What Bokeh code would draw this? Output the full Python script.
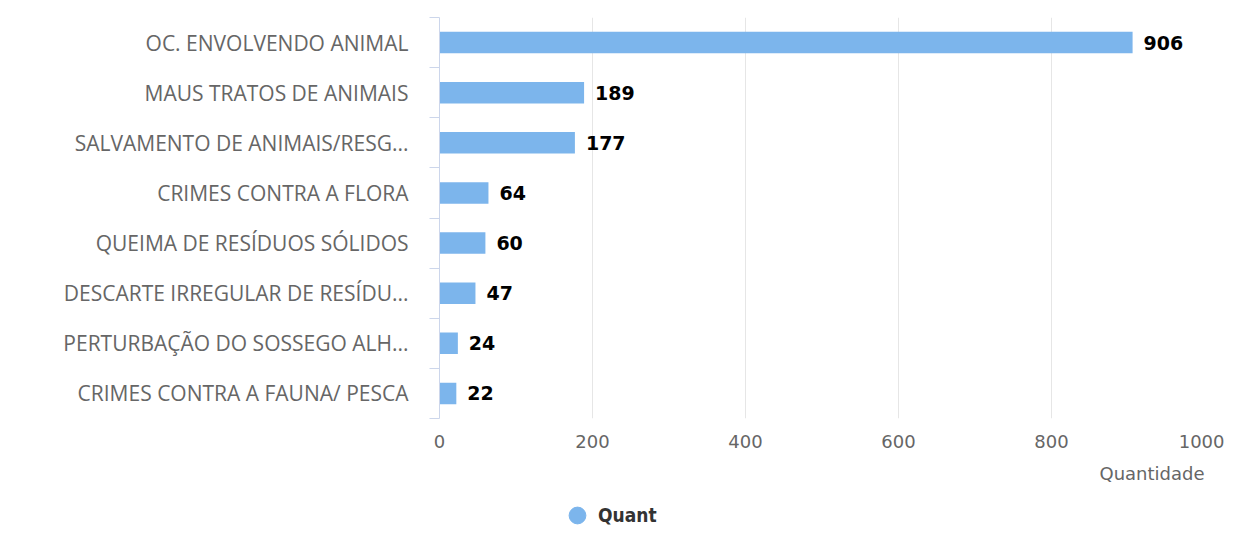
from bokeh.plotting import figure
from bokeh.layouts import column
from bokeh.models import (ColumnDataSource, FixedTicker, Range1d, Legend, LegendItem, Title)
from bokeh.core.properties import value
from bokeh.embed import file_html
from bokeh.resources import INLINE

categories = [
    "OC. ENVOLVENDO ANIMAL",
    "MAUS TRATOS DE ANIMAIS",
    "SALVAMENTO DE ANIMAIS/RESG...",
    "CRIMES CONTRA A FLORA",
    "QUEIMA DE RESÍDUOS SÓLIDOS",
    "DESCARTE IRREGULAR DE RESÍDU...",
    "PERTURBAÇÃO DO SOSSEGO ALH...",
    "CRIMES CONTRA A FAUNA/ PESCA",
]
quant = [906, 189, 177, 64, 60, 47, 24, 22]
x_ticks = [0, 200, 400, 600, 800, 1000]
series_name = "Quant"
axis_title = "Quantidade"

n = len(categories)
pos = [n - 1 - i + 0.5 for i in range(n)]

src = ColumnDataSource(dict(cat=categories, q=quant, y=pos, lbl=[str(v) for v in quant]))

bar_color = "#7cb5ec"

p = figure(width=1224, height=493, output_backend="svg", toolbar_location=None,
           x_range=Range1d(0, 1000), y_range=Range1d(0, n),
           min_border_left=439, min_border_right=20, min_border_top=17, min_border_bottom=75)
p.outline_line_color = None
p.background_fill_color = "white"

p.hbar(y="y", right="q", left=0, height=0.43, source=src, color=bar_color, line_color=None)
p.text(x="q", y="y", text="lbl", source=src, x_offset=11, text_baseline="middle",
       text_font=value("DejaVu Sans"), text_font_style="bold", text_font_size="19px",
       text_color="#000000")

# x axis
xa = p.xaxis[0]
xa.ticker = FixedTicker(ticks=x_ticks)
xa.axis_line_color = None
xa.major_tick_line_color = None
xa.major_tick_out = 0
xa.minor_tick_line_color = None
xa.major_label_text_font = "DejaVu Sans"
xa.major_label_text_font_size = "18px"
xa.major_label_text_color = "#666666"
xa.major_label_standoff = 16

# y axis
ya = p.yaxis[0]
ya.ticker = FixedTicker(ticks=pos, minor_ticks=list(range(n + 1)))
ya.major_label_overrides = {pp: c for pp, c in zip(pos, categories)}
ya.axis_line_color = "#ccd6eb"
ya.major_tick_line_color = None
ya.major_tick_out = 0
ya.major_tick_in = 0
ya.minor_tick_line_color = "#ccd6eb"
ya.minor_tick_out = 10
ya.minor_tick_in = 0
ya.major_label_standoff = 21
ya.major_label_text_font = "Open Sans"
ya.major_label_text_font_size = "21px"
ya.major_label_text_color = "#666666"

p.xgrid.grid_line_color = "#e6e6e6"
p.xgrid.ticker = FixedTicker(ticks=x_ticks)
p.ygrid.grid_line_color = None

t = Title(text=axis_title, align="right", text_font="DejaVu Sans",
          text_font_size="18px", text_font_style="normal", text_color="#666666",
          standoff=20)
p.add_layout(t, "below")

# legend strip below the chart (frame is aligned with the chart's frame)
lf = figure(width=1224, height=43, output_backend="svg", toolbar_location=None,
            x_range=Range1d(0, 1), y_range=Range1d(0, 1),
            x_axis_type=None, y_axis_type=None,
            min_border_left=439, min_border_right=20, min_border_top=0, min_border_bottom=0)
lf.outline_line_color = None
lf.xgrid.grid_line_color = None
lf.ygrid.grid_line_color = None
# series proxy for the legend key (its points fall outside this strip's ranges)
leg_r = lf.scatter(x="q", y="y", source=src, marker="circle", size=18, color=bar_color)
legend = Legend(items=[LegendItem(label=series_name, renderers=[leg_r])],
                location=(117, 0), orientation="horizontal",
                label_text_font="DejaVu Sans Condensed", label_text_font_style="bold",
                label_text_font_size="19px", label_text_color="#333333",
                border_line_color=None, background_fill_alpha=0,
                padding=0, margin=0, glyph_width=42, glyph_height=42,
                label_standoff=0)
lf.add_layout(legend, "center")

layout = column(p, lf, spacing=0)
open("out.html", "w").write(file_html(layout, INLINE))
